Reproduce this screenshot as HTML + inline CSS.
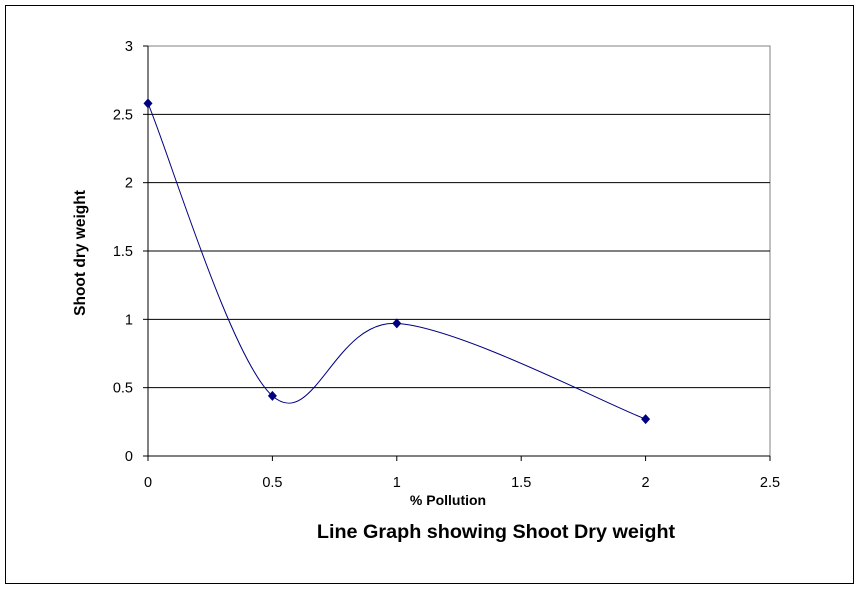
<!DOCTYPE html>
<html><head><meta charset="utf-8"><style>
body{margin:0;background:#fff;}
svg{display:block;font-family:"Liberation Sans",Arial,sans-serif;}
</style></head><body>
<svg id="chart" width="859" height="589">
<rect x="5.5" y="5.5" width="848" height="578" fill="#fff" stroke="#000" stroke-width="1"/>
<g id="grid"></g>
<g id="axes"></g>
<path id="line" fill="none" stroke="#000080" stroke-width="1"/>
<g id="pts"></g>
<text x="0" y="0" transform="translate(85,253) rotate(-90)" text-anchor="middle" font-size="15.5" font-weight="bold">Shoot dry weight</text>
<text x="448" y="505" text-anchor="middle" font-size="14" font-weight="bold">% Pollution</text>
<text x="496" y="538" text-anchor="middle" font-size="19.8" font-weight="bold">Line Graph showing Shoot Dry weight</text>
</svg>
<script>
const xs=[0,0.5,1,2];
const ys=[2.58,0.44,0.97,0.27];
const xTicks=[0,0.5,1,1.5,2,2.5];
const yTicks=[0,0.5,1,1.5,2,2.5,3];
const L=148,R=770,T=46,B=456;
const X=v=>L+(v-0)/(2.5)*(R-L);
const Y=v=>B-(v/3)*(B-T);
const NS="http://www.w3.org/2000/svg";
function mk(tag,attrs,parent){const e=document.createElementNS(NS,tag);for(const k in attrs)e.setAttribute(k,attrs[k]);parent.appendChild(e);return e;}
const grid=document.getElementById('grid'),axes=document.getElementById('axes');
mk('rect',{x:L,y:T,width:R-L,height:B-T,fill:'none',stroke:'#808080'},grid);
yTicks.forEach(t=>{
  if(t>0&&t<3){const g=mk('line',{x1:L,x2:R,y1:Y(t),y2:Y(t),stroke:'#000'},grid);
  
  }
  mk('line',{x1:L-5,x2:L,y1:Y(t),y2:Y(t),stroke:'#000'},axes);
  const tx=mk('text',{x:L-15,y:Y(t)+5,'text-anchor':'end','font-size':'14.5'},axes);
  tx.textContent=String(t);
  
  
});
xTicks.forEach(t=>{
  mk('line',{x1:X(t),x2:X(t),y1:B,y2:B+5,stroke:'#000'},axes);
  const tx=mk('text',{x:X(t),y:B+31,'text-anchor':'middle','font-size':'14.5'},axes);
  tx.textContent=String(t);
  
  
});
mk('line',{x1:L,x2:L,y1:T,y2:B,stroke:'#000'},axes);
mk('line',{x1:L,x2:R,y1:B,y2:B,stroke:'#000'},axes);
const P=xs.map((x,i)=>[X(x),Y(ys[i])]);
let d=`M${P[0][0]},${P[0][1]}`;
for(let i=0;i<P.length-1;i++){
  const p0=P[i-1]||P[i],p1=P[i],p2=P[i+1],p3=P[i+2]||P[i+1];
  const c1=[p1[0]+(p2[0]-p0[0])/6,p1[1]+(p2[1]-p0[1])/6];
  const c2=[p2[0]-(p3[0]-p1[0])/6,p2[1]-(p3[1]-p1[1])/6];
  d+=` C${c1[0]},${c1[1]} ${c2[0]},${c2[1]} ${p2[0]},${p2[1]}`;
}
document.getElementById('line').setAttribute('d',d);
const pts=document.getElementById('pts');
P.forEach(p=>{
  const m=mk('polygon',{points:`${p[0]},${p[1]-5} ${p[0]+4.5},${p[1]} ${p[0]},${p[1]+5} ${p[0]-4.5},${p[1]}`,fill:'#000080'},pts);
  
  
});
</script>
</body></html>
